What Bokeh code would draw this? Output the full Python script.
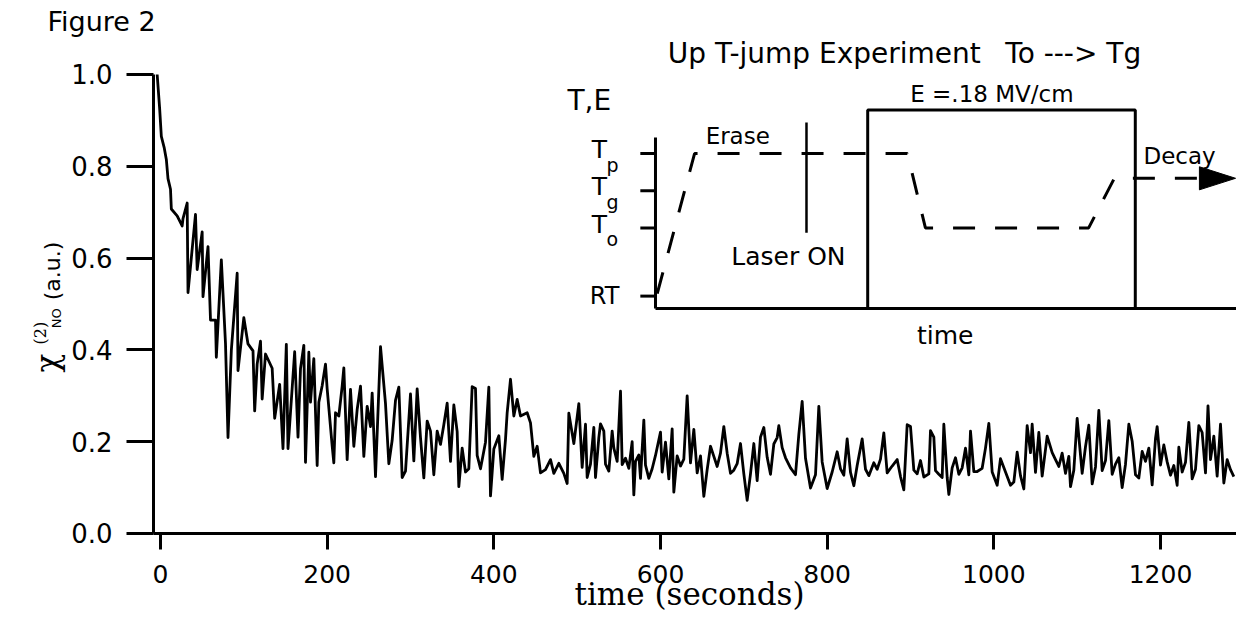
import math
from bokeh.plotting import figure
from bokeh.models import Range1d, Label, FixedTicker
from bokeh.embed import file_html
from bokeh.resources import INLINE

# ---------------- main trace: chi(2)_NO (a.u.) versus time (s) ----------------
t_early = [-4, -1, 1, 4.5, 7, 9, 12, 13, 20, 26, 27, 32, 33, 42, 44, 50, 51, 57, 60, 66,
           67, 73, 78, 81, 85, 92, 93, 100, 105, 111, 113, 116, 120, 122, 126, 134, 137, 143, 147, 151,
           153, 161, 165]
v_early = [1.0, .925, .865, .84, .815, .773, .75, .707, .692, .67, .686, .72, .525, .695, .575, .657, .516, .625, .465, .465,
           .384, .596, .414, .209, .399, .567, .355, .470, .413, .398, .267, .369, .419, .293, .391, .360, .251, .325, .185, .412,
           .185, .396, .21]

t_mid = [168, 172, 174, 178, 180, 184, 188, 190, 194, 198, 200, 206, 208, 210, 214, 218, 220, 224, 228, 232,
         236, 240, 244, 248, 252, 254, 258, 264, 270, 274, 278, 282, 286, 290, 294, 300, 304, 308, 312, 316,
         320, 324, 328, 332, 336, 340, 344, 348, 352, 356, 358, 362, 366, 370, 374, 378, 380, 384, 390, 394,
         396, 400, 406, 410, 414, 416, 420, 424, 428, 432, 440, 444, 448, 452, 456, 462, 468, 472, 478, 484,
         488, 490, 496, 502]
v_mid = [.359, .410, .155, .395, .286, .381, .148, .286, .322, .369, .315, .191, .154, .263, .256, .321, .361, .161, .314, .190,
         .270, .321, .168, .277, .233, .306, .124, .407, .283, .152, .203, .290, .319, .122, .136, .304, .158, .315, .209, .121,
         .245, .223, .128, .223, .194, .237, .284, .157, .280, .222, .102, .186, .134, .141, .320, .316, .170, .141, .199, .319,
         .082, .184, .213, .118, .205, .263, .336, .256, .292, .256, .263, .241, .168, .190, .132, .139, .161, .131, .153, .131,
         .109, .262, .196, .283]

t_late1 = [506, 510, 512, 516, 520, 522, 526, 528, 532, 534, 538, 542, 544, 548, 552, 554, 558, 562, 566, 568,
           570, 574, 576, 580, 582, 586, 590, 594, 600, 602, 606, 610, 614, 616, 620, 624, 628, 632, 636, 640,
           644, 648, 652, 656, 660, 664, 668, 672, 676, 680, 684, 688, 692, 696, 700, 704, 708, 712, 716, 720,
           724, 728, 732, 736, 740, 742, 746, 750, 756, 762, 766, 770, 774, 780, 786, 790, 794, 800, 806, 812,
           816, 820, 824, 828, 832, 836, 842, 846, 850, 856, 860, 864, 868, 872, 878, 884, 888, 892, 896]
v_late1 = [.144, .238, .122, .151, .231, .122, .209, .239, .223, .151, .136, .223, .186, .157, .310, .150, .164, .142, .200, .084,
           .157, .171, .120, .247, .149, .120, .141, .170, .221, .134, .199, .119, .228, .090, .169, .147, .162, .300, .154, .227,
           .132, .169, .081, .139, .190, .168, .146, .175, .233, .175, .131, .138, .152, .196, .130, .072, .130, .196, .115, .210,
           .231, .166, .129, .195, .209, .235, .187, .165, .143, .128, .216, .288, .164, .099, .128, .277, .156, .098, .134, .178,
           .141, .127, .206, .133, .104, .148, .206, .140, .126, .154, .140, .162, .219, .132, .147, .161, .124, .095, .237]

t_late2 = [900, 904, 908, 912, 916, 922, 924, 928, 930, 934, 938, 940, 944, 946, 950, 954, 958, 962, 966, 970,
           972, 976, 980, 986, 990, 994, 998, 1004, 1008, 1014, 1020, 1024, 1028, 1032, 1036, 1040, 1044, 1046, 1050, 1054,
           1058, 1064, 1070, 1074, 1078, 1082, 1086, 1090, 1092, 1096, 1100, 1106, 1110, 1114, 1118, 1122, 1126, 1130, 1134, 1138,
           1142, 1146, 1150, 1154, 1158, 1162, 1166, 1170, 1174, 1178, 1182, 1186, 1190, 1194, 1196, 1200, 1204, 1208, 1212, 1216,
           1220, 1222, 1226, 1230, 1234, 1238, 1242, 1246, 1250, 1254, 1257, 1260, 1264, 1268, 1272, 1276, 1280, 1284, 1288]
v_late2 = [.233, .138, .130, .159, .123, .130, .224, .210, .137, .129, .122, .238, .122, .085, .143, .165, .129, .143, .186, .128,
           .223, .135, .135, .142, .186, .240, .134, .105, .163, .134, .105, .112, .177, .126, .097, .235, .176, .238, .133, .220,
           .125, .212, .176, .161, .146, .175, .131, .168, .102, .138, .251, .131, .189, .236, .108, .145, .268, .137, .159, .246,
           .129, .151, .165, .100, .151, .238, .201, .128, .121, .179, .157, .186, .106, .207, .233, .149, .193, .156, .127, .148,
           .105, .188, .134, .155, .242, .119, .140, .235, .220, .132, .278, .161, .212, .125, .238, .110, .161, .139, .124]

time_s = t_early + t_mid + t_late1 + t_late2
chi_no = v_early + v_mid + v_late1 + v_late2

x_ticks = [0, 200, 400, 600, 800, 1000, 1200]
y_ticks = [0.0, 0.2, 0.4, 0.6, 0.8, 1.0]
y_tick_labels = ["0.0", "0.2", "0.4", "0.6", "0.8", "1.0"]
x_axis_start = -8.4
x_axis_end = 1291.2

# ---------------- inset schematic (schematic time units, schematic level units) ----------------
level_names = ["RT", "T", "T", "T"]
level_subs = ["", "o", "g", "p"]
level_values = [1.0, 6.5, 9.5, 12.5]
inset_axis_top = 13.8
inset_t_end = 100.0
temp_path_t = [0.3, 6.7, 43.2, 46.3, 74.3, 78.7, 93.3]
temp_path_T = [1.2, 12.5, 12.5, 6.5, 6.5, 10.5, 10.5]
field_on_t = 36.4
field_off_t = 82.3
field_level = 16.0
laser_t = 25.9
laser_span = [6.1, 15.0]
arrow_base_t = 93.3
arrow_tip_t = 99.5
arrow_half = 0.93

SANS = "DejaVu Sans"
SERIF = "DejaVu Serif"
INK = "black"

p = figure(width=1236, height=618, output_backend="svg", toolbar_location=None,
           x_range=Range1d(-192.0, 1291.2), y_range=Range1d(-0.1852, 1.1612),
           min_border=0, min_border_left=0, min_border_right=0, min_border_top=0, min_border_bottom=0)
p.outline_line_color = None
p.grid.visible = False
p.background_fill_color = "white"

p.extra_x_ranges = {"ins": Range1d(-112.35, 99.66)}
p.extra_y_ranges = {"ins": Range1d(-25.0, 24.84)}

# axes (drawn at fixed data locations inside the frame)
xa = p.xaxis[0]
xa.fixed_location = 0
xa.bounds = (x_axis_start, x_axis_end)
xa.ticker = FixedTicker(ticks=x_ticks)
xa.axis_line_width = 3
xa.major_tick_line_width = 3
xa.major_tick_out = 16
xa.major_tick_in = 0
xa.minor_tick_line_color = None
xa.major_label_text_font = SANS
xa.major_label_text_font_size = "25px"
xa.major_label_standoff = 16
xa.major_label_text_color = INK

ya = p.yaxis[0]
ya.fixed_location = x_axis_start
ya.ticker = FixedTicker(ticks=y_ticks)
ya.bounds = (0, 1)
ya.major_label_overrides = {v: s for v, s in zip(y_ticks, y_tick_labels)}
ya.axis_line_width = 3
ya.major_tick_line_width = 3
ya.major_tick_out = 27
ya.major_tick_in = 0
ya.minor_tick_line_color = None
ya.major_label_text_font = SANS
ya.major_label_text_font_size = "26px"
ya.major_label_standoff = 14
ya.major_label_text_color = INK

# main trace
p.line(time_s, chi_no, line_color=INK, line_width=2.8, line_join="round")

# texts around the axes (main coordinates)
p.add_layout(Label(x=-135.6, y=1.116, text="Figure 2", text_font=SANS, text_font_size="27px",
                   text_color=INK, text_align="left", text_baseline="middle"))
p.add_layout(Label(x=634.8, y=-0.131, text="time (seconds)", text_font=SERIF, text_font_size="31px",
                   text_color=INK, text_align="center", text_baseline="middle"))
rot = math.pi / 2
p.add_layout(Label(x=-136.8, y=0.351, text="χ", angle=rot, text_font=SERIF, text_font_size="31px",
                   text_color=INK, text_align="left", text_baseline="alphabetic"))
p.add_layout(Label(x=-144.0, y=0.412, text="(2)", angle=rot, text_font=SERIF, text_font_size="16px",
                   text_color=INK, text_align="left", text_baseline="alphabetic"))
p.add_layout(Label(x=-124.8, y=0.447, text="NO", angle=rot, text_font=SANS, text_font_size="13px",
                   text_color=INK, text_align="left", text_baseline="alphabetic"))
p.add_layout(Label(x=-129.6, y=0.508, text="(a.u.)", angle=rot, text_font=SANS, text_font_size="22px",
                   text_color=INK, text_align="left", text_baseline="alphabetic"))

# ---------------- inset drawing ----------------
ins = dict(x_range_name="ins", y_range_name="ins")
p.line([0, 0], [0, inset_axis_top], line_color=INK, line_width=3, **ins)
p.line([0, inset_t_end], [0, 0], line_color=INK, line_width=3, **ins)
for lv in level_values:
    p.line([-2.6, 0], [lv, lv], line_color=INK, line_width=3, **ins)
p.line([field_on_t, field_on_t, field_off_t, field_off_t], [0, field_level, field_level, 0],
       line_color=INK, line_width=3, **ins)
p.line([laser_t, laser_t], laser_span, line_color=INK, line_width=2.5, **ins)
p.line(temp_path_t, temp_path_T, line_color=INK, line_width=3, line_dash="22 20", **ins)
p.patch([arrow_base_t, arrow_tip_t, arrow_base_t],
        [temp_path_T[-1] + arrow_half, temp_path_T[-1], temp_path_T[-1] - arrow_half],
        fill_color=INK, line_color=INK, **ins)


def ins_text(x, y, s, size, align="left"):
    p.add_layout(Label(x=x, y=y, text=s, text_font=SANS, text_font_size=size, text_color=INK,
                       text_align=align, text_baseline="middle", **ins))


for name, sub, lv in zip(level_names, level_subs, level_values):
    if sub:
        ins_text(-8.3, lv + 0.3, name, "25px", align="right")
        ins_text(-8.4, lv - 0.9, sub, "19px")
    else:
        ins_text(-6.2, lv, name, "24px", align="right")

ins_text(2.1, 20.6, "Up T-jump Experiment", "28px")
ins_text(60.0, 20.6, "To ---> Tg", "28px")
ins_text(-15.1, 16.8, "T,E", "28px")
ins_text(43.7, 17.3, "E =.18 MV/cm", "23px")
ins_text(8.6, 13.9, "Erase", "23px")
ins_text(13.0, 4.2, "Laser ON", "25px")
ins_text(83.7, 12.3, "Decay", "23px")
ins_text(49.7, -2.2, "time", "25px", align="center")

open("out.html", "w").write(file_html(p, INLINE))
